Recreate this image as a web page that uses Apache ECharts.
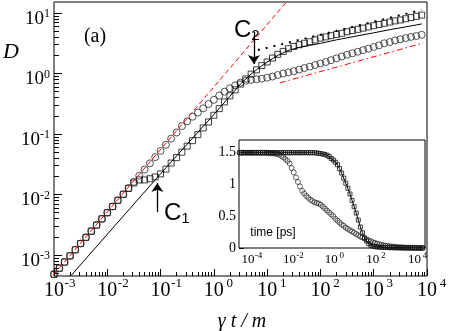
<!DOCTYPE html>
<html>
<head>
<meta charset="utf-8">
<script src="https://cdn.jsdelivr.net/npm/echarts@6/dist/echarts.min.js"></script>
<style>html,body{margin:0;padding:0;background:#fff}#main{width:452px;height:331px}</style>
</head>
<body>
<div id="main"></div>
<script>
// main panel: D vs gamma t / m (log-log)
var mainT = [0.001, 0.00126, 0.00158, 0.002, 0.00251, 0.00316, 0.00398, 0.00501, 0.00631, 0.00794,
  0.01, 0.0126, 0.0158, 0.02, 0.0251, 0.0316, 0.0398, 0.0501, 0.0631, 0.0794,
  0.1, 0.126, 0.158, 0.2, 0.251, 0.316, 0.398, 0.501, 0.631, 0.794,
  1, 1.26, 1.58, 2, 2.51, 3.16, 3.98, 5.01, 6.31, 7.94,
  10, 12.6, 15.8, 20, 25.1, 31.6, 39.8, 50.1, 63.1, 79.4,
  100, 126, 158, 200, 251, 316, 398, 501, 631, 794,
  1000, 1260, 1580, 2000, 2510, 3160, 3980, 5010, 6310, 7940];
var circD = [0.00048, 0.000605, 0.000766, 0.000968, 0.00122, 0.00155, 0.00196, 0.00248, 0.00313, 0.00396,
  0.00501, 0.00634, 0.00802, 0.0101, 0.0128, 0.0162, 0.0205, 0.0259, 0.0328, 0.0415,
  0.0525, 0.0664, 0.0839, 0.106, 0.135, 0.162, 0.193, 0.226, 0.266, 0.313,
  0.367, 0.431, 0.501, 0.569, 0.638, 0.708, 0.759, 0.785, 0.804, 0.822,
  0.851, 0.891, 0.944, 1.0, 1.047, 1.096, 1.16, 1.23, 1.30, 1.38,
  1.46, 1.55, 1.66, 1.78, 1.91, 2.04, 2.16, 2.29, 2.43, 2.57,
  2.75, 2.92, 3.16, 3.31, 3.51, 3.67, 3.85, 4.03, 4.17, 4.37];
var sqD = [0.00048, 0.000605, 0.000766, 0.000968, 0.00122, 0.00155, 0.00196, 0.00248, 0.00313, 0.00396,
  0.00501, 0.00634, 0.00802, 0.0101, 0.0126, 0.0155, 0.0174, 0.0174, 0.0182, 0.0195,
  0.0219, 0.0263, 0.0331, 0.0407, 0.0501, 0.0631, 0.0776, 0.0977, 0.126, 0.158,
  0.204, 0.263, 0.339, 0.427, 0.537, 0.668, 0.813, 0.977, 1.15, 1.35,
  1.55, 1.80, 2.07, 2.32, 2.57, 2.79, 2.99, 3.16, 3.35, 3.59,
  3.85, 4.03, 4.22, 4.42, 4.62, 4.90, 5.13, 5.37, 5.62, 5.89,
  6.17, 6.46, 6.76, 7.08, 7.41, 7.67, 8.04, 8.41, 8.81, 9.23];
var solidT = [0.0021, 0.01, 0.1, 1, 2, 3.16, 5.01, 6.31, 7.94, 10, 12.6, 15.8, 20, 26, 40, 63, 100, 200, 500, 1000, 2000, 4000, 8000];
var solidD = [0.00046, 0.0022, 0.022, 0.21, 0.42, 0.67, 0.98, 1.15, 1.34, 1.54, 1.76, 1.98, 2.2, 2.44, 2.7, 2.92, 3.15, 3.6, 4.2, 4.7, 5.3, 5.9, 6.6];
var redT = [0.001, 23], redD = [0.00048, 15.2];      // red dashed
var dashDotT = [17.3, 8500], dashDotD = [0.70, 3.19]; // red dash-dot
var dotT = [6.7, 7840], dotD = [2.44, 11.2];          // black dotted
// arrows C1 / C2: [t, D from, D to]
var arrowC1 = [0.087, 0.0051, 0.0155];
var arrowC2 = [5.65, 4.85, 1.44];

// inset: vs time [ps]
var insetT = [3.98e-5, 5.01e-5, 6.31e-5, 7.94e-5,
  1e-4, 1.26e-4, 1.58e-4, 2e-4, 2.51e-4, 3.16e-4, 3.98e-4, 5.01e-4, 6.31e-4, 7.94e-4,
  0.001, 0.00126, 0.00158, 0.002, 0.00251, 0.00316, 0.00398, 0.00501, 0.00631, 0.00794,
  0.01, 0.0126, 0.0158, 0.02, 0.0251, 0.0316, 0.0398, 0.0501, 0.0631, 0.0794,
  0.1, 0.126, 0.158, 0.2, 0.251, 0.316, 0.398, 0.501, 0.631, 0.794,
  1, 1.26, 1.58, 2, 2.51, 3.16, 3.98, 5.01, 6.31, 7.94,
  10, 12.6, 15.8, 20, 25.1, 31.6, 39.8, 50.1, 63.1, 79.4,
  100, 126, 158, 200, 251, 316, 398, 501, 631, 794,
  1000, 1260, 1580, 2000, 2510, 3160, 3980, 5010, 6310, 7940,
  10000, 12600, 15800, 20000, 25100];
var insetCirc = [1.5, 1.5, 1.5, 1.5,
  1.5, 1.5, 1.5, 1.5, 1.5, 1.5, 1.5, 1.5, 1.5, 1.5,
  1.495, 1.49, 1.49, 1.485, 1.48, 1.47, 1.45, 1.43, 1.40, 1.37,
  1.33, 1.26, 1.19, 1.11, 1.04, 0.97, 0.90, 0.86, 0.82, 0.79,
  0.76, 0.74, 0.72, 0.71, 0.70, 0.68, 0.65, 0.62, 0.59, 0.56,
  0.53, 0.50, 0.46, 0.43, 0.40, 0.37, 0.35, 0.32, 0.30, 0.28,
  0.26, 0.24, 0.22, 0.20, 0.18, 0.165, 0.15, 0.135, 0.12, 0.105,
  0.09, 0.08, 0.07, 0.06, 0.05, 0.044, 0.038, 0.033, 0.028, 0.024,
  0.02, 0.017, 0.014, 0.012, 0.01, 0.008, 0.007, 0.006, 0.005, 0.004,
  0.003, 0.0025, 0.002, 0.0015, 0.001];
var insetSq = [1.5, 1.5, 1.5, 1.5,
  1.5, 1.5, 1.5, 1.5, 1.5, 1.5, 1.5, 1.5, 1.5, 1.5,
  1.5, 1.5, 1.5, 1.5, 1.5, 1.5, 1.5, 1.5, 1.5, 1.5,
  1.5, 1.5, 1.5, 1.5, 1.5, 1.5, 1.5, 1.5, 1.5, 1.5,
  1.5, 1.5, 1.5, 1.495, 1.49, 1.485, 1.48, 1.47, 1.46, 1.44,
  1.41, 1.385, 1.35, 1.31, 1.25, 1.18, 1.10, 1.02, 0.94, 0.85,
  0.75, 0.65, 0.55, 0.44, 0.33, 0.24, 0.16, 0.11, 0.07, 0.045,
  0.03, 0.022, 0.018, 0.015, 0.012, 0.01, 0.008, 0.007, 0.006, 0.005,
  0.004, 0.0035, 0.003, 0.0025, 0.002, 0.002, 0.002, 0.0015, 0.001, 0.001,
  0.001, 0.0005, 0, 0, 0];

var mainXTicks = [1e-3, 1e-2, 1e-1, 1, 10, 100, 1000, 1e4];
var mainYTicks = [1e-3, 1e-2, 1e-1, 1, 10];
var insetXTicks = [1e-4, 1e-2, 1, 100, 1e4];
var insetYTicks = [0, 0.5, 1, 1.5];
var insetYMinor = [0.25, 0.75, 1.25];

var X0 = 1e-3, X1 = 1e4, Y0 = 4.5e-4, Y1 = 15.2;
var IX0 = 3.7e-5, IX1 = 3.2e4;

function minorsOf(majors, lo, hi) {
  var out = [];
  majors.concat([majors[0] / 10]).forEach(function (m) {
    for (var k = 2; k <= 9; k++) {
      var v = m * k;
      if (v > lo && v < hi) out.push(v);
    }
  });
  return out;
}
function zip(a, b) { return a.map(function (v, i) { return [v, b[i]]; }); }
function pow10(v) { return '{b|10}{e|' + Math.round(Math.log10(v)) + '}'; }

var serif = 'Liberation Serif';
var ink = '#000';

function majorAxis(opt) {
  return Object.assign({
    type: 'log', logBase: 10, splitLine: { show: false },
    axisLine: { show: false, onZero: false },
    minorTick: { show: false }
  }, opt);
}

var myChart = echarts.init(document.getElementById('main'));

var option = {
  animation: false,
  grid: [
    { left: 54, top: 2, right: 8, bottom: 55, show: true, borderColor: ink, borderWidth: 1 },
    { left: 239, top: 140, right: 27, bottom: 83, show: true, borderColor: ink, borderWidth: 1, backgroundColor: '#fff', z: 3 }
  ],
  xAxis: [
    majorAxis({
      gridIndex: 0, min: X0, max: X1, position: 'bottom',
      axisTick: { inside: true, length: 7, customValues: mainXTicks, lineStyle: { color: ink } },
      axisLabel: {
        customValues: mainXTicks, formatter: pow10, margin: 1,
        rich: {
          b: { fontSize: 20, fontFamily: serif, color: ink, lineHeight: 20, padding: [7, 0, 0, 12] },
          e: { fontSize: 13, fontFamily: serif, color: ink, lineHeight: 13, verticalAlign: 'top', width: 12, align: 'left' }
        }
      }
    }),
    majorAxis({
      gridIndex: 0, min: X0, max: X1, position: 'bottom',
      axisTick: { inside: true, length: 4, customValues: minorsOf(mainXTicks, X0, X1), lineStyle: { color: ink } },
      axisLabel: { show: false }
    }),
    majorAxis({
      gridIndex: 1, min: IX0, max: IX1, position: 'bottom',
      axisTick: { inside: true, length: 5, customValues: insetXTicks, lineStyle: { color: ink } },
      axisLabel: {
        customValues: insetXTicks, formatter: pow10, margin: 3,
        rich: {
          b: { fontSize: 13, fontFamily: serif, color: ink, lineHeight: 13, padding: [4, 0, 0, 8] },
          e: { fontSize: 9, fontFamily: serif, color: ink, lineHeight: 9, verticalAlign: 'top', width: 8, align: 'left' }
        }
      }
    }),
    majorAxis({
      gridIndex: 1, min: IX0, max: IX1, position: 'bottom',
      axisTick: { inside: true, length: 3, customValues: minorsOf(insetXTicks, IX0, IX1), lineStyle: { color: ink } },
      axisLabel: { show: false }
    })
  ],
  yAxis: [
    majorAxis({
      gridIndex: 0, min: Y0, max: Y1, position: 'left',
      axisTick: { inside: true, length: 8, customValues: mainYTicks, lineStyle: { color: ink } },
      axisLabel: {
        customValues: mainYTicks, formatter: pow10, margin: 4, padding: [9, 0, 0, 0],
        rich: {
          b: { fontSize: 19, fontFamily: serif, color: ink, lineHeight: 19, padding: [3, 0, 0, 0] },
          e: { fontSize: 12, fontFamily: serif, color: ink, lineHeight: 12, verticalAlign: 'top' }
        }
      }
    }),
    majorAxis({
      gridIndex: 0, min: Y0, max: Y1, position: 'left',
      axisTick: { inside: true, length: 5, customValues: minorsOf(mainYTicks, Y0, Y1), lineStyle: { color: ink } },
      axisLabel: { show: false }
    }),
    {
      type: 'value', gridIndex: 1, min: 0, max: 1.7, position: 'left',
      splitLine: { show: false }, axisLine: { show: false, onZero: false },
      axisTick: { inside: true, length: 5, customValues: insetYTicks, lineStyle: { color: ink } },
      axisLabel: { customValues: insetYTicks, margin: 3, fontSize: 14, fontFamily: serif, color: ink }
    },
    {
      type: 'value', gridIndex: 1, min: 0, max: 1.7, position: 'left',
      splitLine: { show: false }, axisLine: { show: false, onZero: false },
      axisTick: { inside: true, length: 3, customValues: insetYMinor, lineStyle: { color: ink } },
      axisLabel: { show: false }
    }
  ],
  series: [
    {
      name: 'ballistic', type: 'line', xAxisIndex: 0, yAxisIndex: 0, showSymbol: false,
      data: zip(redT, redD), lineStyle: { color: '#ff0000', width: 1, type: [5, 3] }, z: 4
    },
    {
      name: 'fit', type: 'line', xAxisIndex: 0, yAxisIndex: 0, showSymbol: false,
      data: zip(solidT, solidD), lineStyle: { color: ink, width: 1 }
    },
    {
      name: 'arrows', type: 'line', xAxisIndex: 0, yAxisIndex: 0, showSymbol: false, data: [],
      markLine: {
        silent: true, animation: false, symbol: ['none', 'arrow'], symbolSize: 9,
        lineStyle: { color: ink, width: 1.3, type: 'solid' }, label: { show: false },
        itemStyle: { color: ink },
        data: [
          [{ coord: [arrowC1[0], arrowC1[1]] }, { coord: [arrowC1[0], arrowC1[2]] }],
          [{ coord: [arrowC2[0], arrowC2[1]] }, { coord: [arrowC2[0], arrowC2[2]] }]
        ]
      }
    },
    {
      name: 'dotted', type: 'line', xAxisIndex: 0, yAxisIndex: 0, showSymbol: false,
      data: zip(dotT, dotD), lineStyle: { color: ink, width: 2, type: [2, 6] }
    },
    {
      name: 'dashdot', type: 'line', xAxisIndex: 0, yAxisIndex: 0, showSymbol: false,
      data: zip(dashDotT, dashDotD), lineStyle: { color: '#ff0000', width: 1, type: [6, 3, 1.5, 3] }
    },
    {
      name: 'circles', type: 'scatter', xAxisIndex: 0, yAxisIndex: 0,
      symbol: 'circle', symbolSize: 7, data: zip(mainT, circD),
      itemStyle: { color: 'rgba(0,0,0,0)', borderColor: '#111', borderWidth: 0.9 }
    },
    {
      name: 'squares', type: 'scatter', xAxisIndex: 0, yAxisIndex: 0,
      symbol: 'rect', symbolSize: 6, data: zip(mainT, sqD),
      itemStyle: { color: 'rgba(0,0,0,0)', borderColor: '#111', borderWidth: 1 }
    },
    {
      name: 'inset circles', type: 'scatter', xAxisIndex: 2, yAxisIndex: 2,
      symbol: 'circle', symbolSize: 5, data: zip(insetT, insetCirc), z: 5,
      itemStyle: { color: 'rgba(0,0,0,0)', borderColor: '#111', borderWidth: 0.8 }
    },
    {
      name: 'inset squares', type: 'line', xAxisIndex: 2, yAxisIndex: 2,
      symbol: 'rect', symbolSize: 4, showAllSymbol: true, data: zip(insetT, insetSq), z: 5,
      lineStyle: { color: ink, width: 1 },
      itemStyle: { color: 'rgba(0,0,0,0)', borderColor: '#111', borderWidth: 0.8 }
    }
  ],
  graphic: [
    { type: 'text', x: 11, y: 52, style: { text: 'D', font: 'italic 22px "Liberation Serif"', fill: ink, align: 'center', verticalAlign: 'middle' } },
    { type: 'text', x: 95, y: 37, style: { text: '(a)', font: '20px "Liberation Serif"', fill: ink, align: 'center', verticalAlign: 'middle' } },
    { type: 'text', x: 242, y: 322, style: { text: 'γ t / m', font: 'italic 20px "Liberation Serif"', fill: ink, align: 'center', verticalAlign: 'middle' } },
    { type: 'text', x: 273, y: 233, z: 10, style: { text: 'time [ps]', font: '12px "Liberation Sans"', fill: ink, align: 'center', verticalAlign: 'middle' } },
    {
      type: 'text', x: 234, y: 30, style: {
        text: '{c|C}{s|2}', verticalAlign: 'middle',
        rich: {
          c: { fontSize: 24, fontFamily: 'Liberation Sans', fill: ink, lineHeight: 26 },
          s: { fontSize: 15, fontFamily: 'Liberation Sans', fill: ink, lineHeight: 15, verticalAlign: 'bottom', padding: [6, 0, 0, 0] }
        }
      }
    },
    {
      type: 'text', x: 164, y: 213, style: {
        text: '{c|C}{s|1}', verticalAlign: 'middle',
        rich: {
          c: { fontSize: 24, fontFamily: 'Liberation Sans', fill: ink, lineHeight: 26 },
          s: { fontSize: 15, fontFamily: 'Liberation Sans', fill: ink, lineHeight: 15, verticalAlign: 'bottom', padding: [6, 0, 0, 0] }
        }
      }
    }
  ]
};

myChart.setOption(option);
</script>
</body>
</html>
